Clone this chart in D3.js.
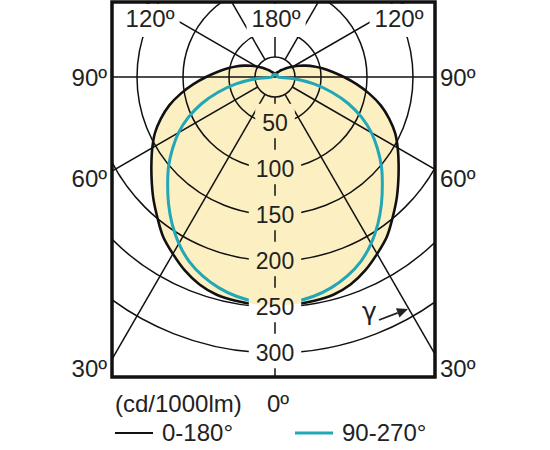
<!DOCTYPE html>
<html>
<head>
<meta charset="utf-8">
<script src="https://cdn.jsdelivr.net/npm/d3@7"></script>
<style>
  body { margin: 0; background: #fff; }
  svg { display: block; font-family: "Liberation Sans", Arial, Helvetica, sans-serif; }
</style>
</head>
<body>
<div class="polarContainer"></div>
<script>
// gamma angles (degrees from nadir) and luminous intensity, cd/1000lm
var gammaDeg = [0, 5, 10, 15, 20, 25, 30, 35, 40, 45, 50, 55, 60, 65, 70, 75, 80, 85, 90,
                95, 100, 105, 110, 115, 120, 125, 130, 135, 140, 145, 150, 155, 160, 165, 170, 175, 180];
var plane0180 = [248, 248, 247, 245, 240, 232, 222, 212, 199, 187, 175, 164, 154, 144, 132, 119, 104, 89, 75,
                 63, 53, 44, 36, 29, 23, 18, 14, 11, 9, 7, 6, 5, 5, 4, 4, 4, 4];
var plane90270 = [246, 245, 242, 237, 230, 221, 209, 195, 180, 165, 151, 136, 121, 104, 85, 64, 43, 21, 3,
                  3, 3, 3, 3, 3, 3, 3, 3, 3, 3, 3, 3, 3, 3, 3, 3, 3, 3];

var ringValues = [50, 100, 150, 200, 250, 300];
var spokeDeg   = [0, 30, 60, 90, 120, 150, 180];
var sideLabels = ["90º", "60º", "30º"];
var topLabels  = ["120º", "180º", "120º"];
var unitLabel  = "(cd/1000lm)";
var zeroLabel  = "0º";
var legendNames  = ["0-180°", "90-270°"];
var legendColors = ["#111", "#21a7b6"];

var w = 550, h = 450,
    cx = 275, cy = 77,
    box = {x: 112, y: 2, w: 323, h: 375},
    innerR = 20,
    fill = "#fcefc2";

var r = d3.scaleLinear()
  .domain([0, 300])
  .range([0, 276]);

var rad = Math.PI / 180;

var svg = d3.select(".polarContainer")
  .append("svg")
  .attr("width", w)
  .attr("height", h);

var defs = svg.append("defs");
defs.append("clipPath").attr("id", "boxClip")
  .append("rect")
    .attr("x", box.x).attr("y", box.y)
    .attr("width", box.w).attr("height", box.h);

// labels knock out the lines underneath them
var mask = defs.append("mask").attr("id", "labelMask")
  .attr("maskUnits", "userSpaceOnUse")
  .attr("x", 0).attr("y", 0).attr("width", w).attr("height", h);
mask.append("rect").attr("width", w).attr("height", h).attr("fill", "white");

// closed outline: right half (C0) from 180 down to 0, then left half (C180) back up
function outline(values) {
  var right = gammaDeg.map(function (g, i) { return [Math.PI - g * rad, r(values[i])]; }).reverse();
  var left = gammaDeg.slice(1, -1).map(function (g, i) { return [Math.PI + g * rad, r(values[i + 1])]; });
  return right.concat(left);
}

var radial = d3.lineRadial()
  .angle(function (d) { return d[0]; })
  .radius(function (d) { return d[1]; })
  .curve(d3.curveCatmullRomClosed.alpha(0.5));

var plot = svg.append("g").attr("clip-path", "url(#boxClip)");

plot.append("path")
  .attr("transform", "translate(" + cx + "," + cy + ")")
  .attr("d", radial(outline(plane0180)))
  .attr("fill", fill);

var masked = plot.append("g").attr("mask", "url(#labelMask)");

var grid = masked.append("g")
  .attr("transform", "translate(" + cx + "," + cy + ")")
  .attr("fill", "none")
  .attr("stroke", "#111")
  .attr("stroke-width", 1.5);

grid.selectAll("circle.ring")
  .data(ringValues)
    .enter()
      .append("circle")
        .attr("class", "ring")
        .attr("r", function (d) { return r(d); });

grid.append("circle").attr("r", innerR);

spokeDeg.forEach(function (g) {
  if (g === 90) {
    grid.append("line").attr("x1", -400).attr("x2", 400).attr("y1", 0).attr("y2", 0);
    return;
  }
  var sides = (g === 0 || g === 180) ? [1] : [1, -1];
  sides.forEach(function (s) {
    var dx = s * Math.sin(g * rad), dy = Math.cos(g * rad);
    grid.append("line")
      .attr("x1", dx * innerR).attr("y1", dy * innerR)
      .attr("x2", dx * 700).attr("y2", dy * 700);
  });
});

var curves = masked.append("g")
  .attr("transform", "translate(" + cx + "," + cy + ")")
  .attr("fill", "none");

curves.append("path")
  .attr("d", radial(outline(plane0180)))
  .attr("stroke", legendColors[0])
  .attr("stroke-width", 2.6);

curves.append("path")
  .attr("d", radial(outline(plane90270)))
  .attr("stroke", legendColors[1])
  .attr("stroke-width", 3);

svg.append("rect")
  .attr("x", box.x).attr("y", box.y)
  .attr("width", box.w).attr("height", box.h)
  .attr("fill", "none")
  .attr("stroke", "#111")
  .attr("stroke-width", 3.5);

var labels = svg.append("g").attr("fill", "#222");

function knockout(node, fs, padX, padTop, padBottom) {
  var b = node.getBBox();
  var base = +node.getAttribute("y");
  mask.append("rect")
    .attr("x", b.x - padX)
    .attr("y", base - 0.716 * fs - padTop)
    .attr("width", b.width + 2 * padX)
    .attr("height", 0.716 * fs + padTop + padBottom)
    .attr("fill", "black");
}

// ring values along the 0 deg axis
var ringFs = 23;
labels.selectAll("text.ringLabel")
  .data(ringValues)
    .enter()
      .append("text")
        .attr("class", "ringLabel")
        .attr("x", cx)
        .attr("y", function (d) { return cy + r(d) + 0.358 * ringFs; })
        .attr("text-anchor", "middle")
        .attr("font-size", ringFs)
        .text(function (d) { return d; })
        .each(function () { knockout(this, ringFs, 7, 11, 7); });

// angle labels
var degFs = 24;
var topX = [150, 276, 399];
labels.selectAll("text.topLabel")
  .data(topLabels)
    .enter()
      .append("text")
        .attr("class", "topLabel")
        .attr("x", function (d, i) { return topX[i]; })
        .attr("y", 27)
        .attr("text-anchor", "middle")
        .attr("font-size", degFs)
        .text(function (d) { return d; })
        .each(function () { knockout(this, degFs, 5, 6, 10); });

var sideY = [86, 187, 377];
labels.selectAll("text.sideLeft")
  .data(sideLabels)
    .enter()
      .append("text")
        .attr("x", box.x - 5)
        .attr("y", function (d, i) { return sideY[i]; })
        .attr("text-anchor", "end")
        .attr("font-size", degFs)
        .text(function (d) { return d; });

labels.selectAll("text.sideRight")
  .data(sideLabels)
    .enter()
      .append("text")
        .attr("x", box.x + box.w + 5)
        .attr("y", function (d, i) { return sideY[i]; })
        .attr("font-size", degFs)
        .text(function (d) { return d; });

// gamma direction note
labels.append("text")
  .attr("x", 362).attr("y", 320)
  .attr("font-size", 25)
  .attr("font-family", "'DejaVu Sans', sans-serif")
  .text("γ");

var a0 = [379, 320], tip = [408, 309];
var ux = tip[0] - a0[0], uy = tip[1] - a0[1], ul = Math.sqrt(ux * ux + uy * uy);
ux /= ul; uy /= ul;
var bx = tip[0] - 11 * ux, by = tip[1] - 11 * uy;
labels.append("line")
  .attr("x1", a0[0]).attr("y1", a0[1]).attr("x2", bx).attr("y2", by)
  .attr("stroke", "#222").attr("stroke-width", 1.8);
labels.append("path")
  .attr("d", "M" + tip + "L" + [bx - 5 * uy, by + 5 * ux] + "L" + [bx + 5 * uy, by - 5 * ux] + "Z")
  .attr("fill", "#222");

// unit and legend below the box
var legFs = 24;
labels.append("text")
  .attr("x", 115).attr("y", 412)
  .attr("font-size", legFs)
  .text(unitLabel);

labels.append("text")
  .attr("x", cx - 8).attr("y", 412)
  .attr("font-size", legFs)
  .text(zeroLabel);

var legX = [115, 295];
var legend = svg.append("g");
legendNames.forEach(function (name, i) {
  legend.append("line")
    .attr("x1", legX[i]).attr("x2", legX[i] + 38)
    .attr("y1", 433).attr("y2", 433)
    .attr("stroke", legendColors[i])
    .attr("stroke-width", i === 0 ? 2 : 3);
  legend.append("text")
    .attr("x", legX[i] + 47).attr("y", 441)
    .attr("font-size", legFs)
    .attr("fill", "#222")
    .text(name);
});
</script>
</body>
</html>
